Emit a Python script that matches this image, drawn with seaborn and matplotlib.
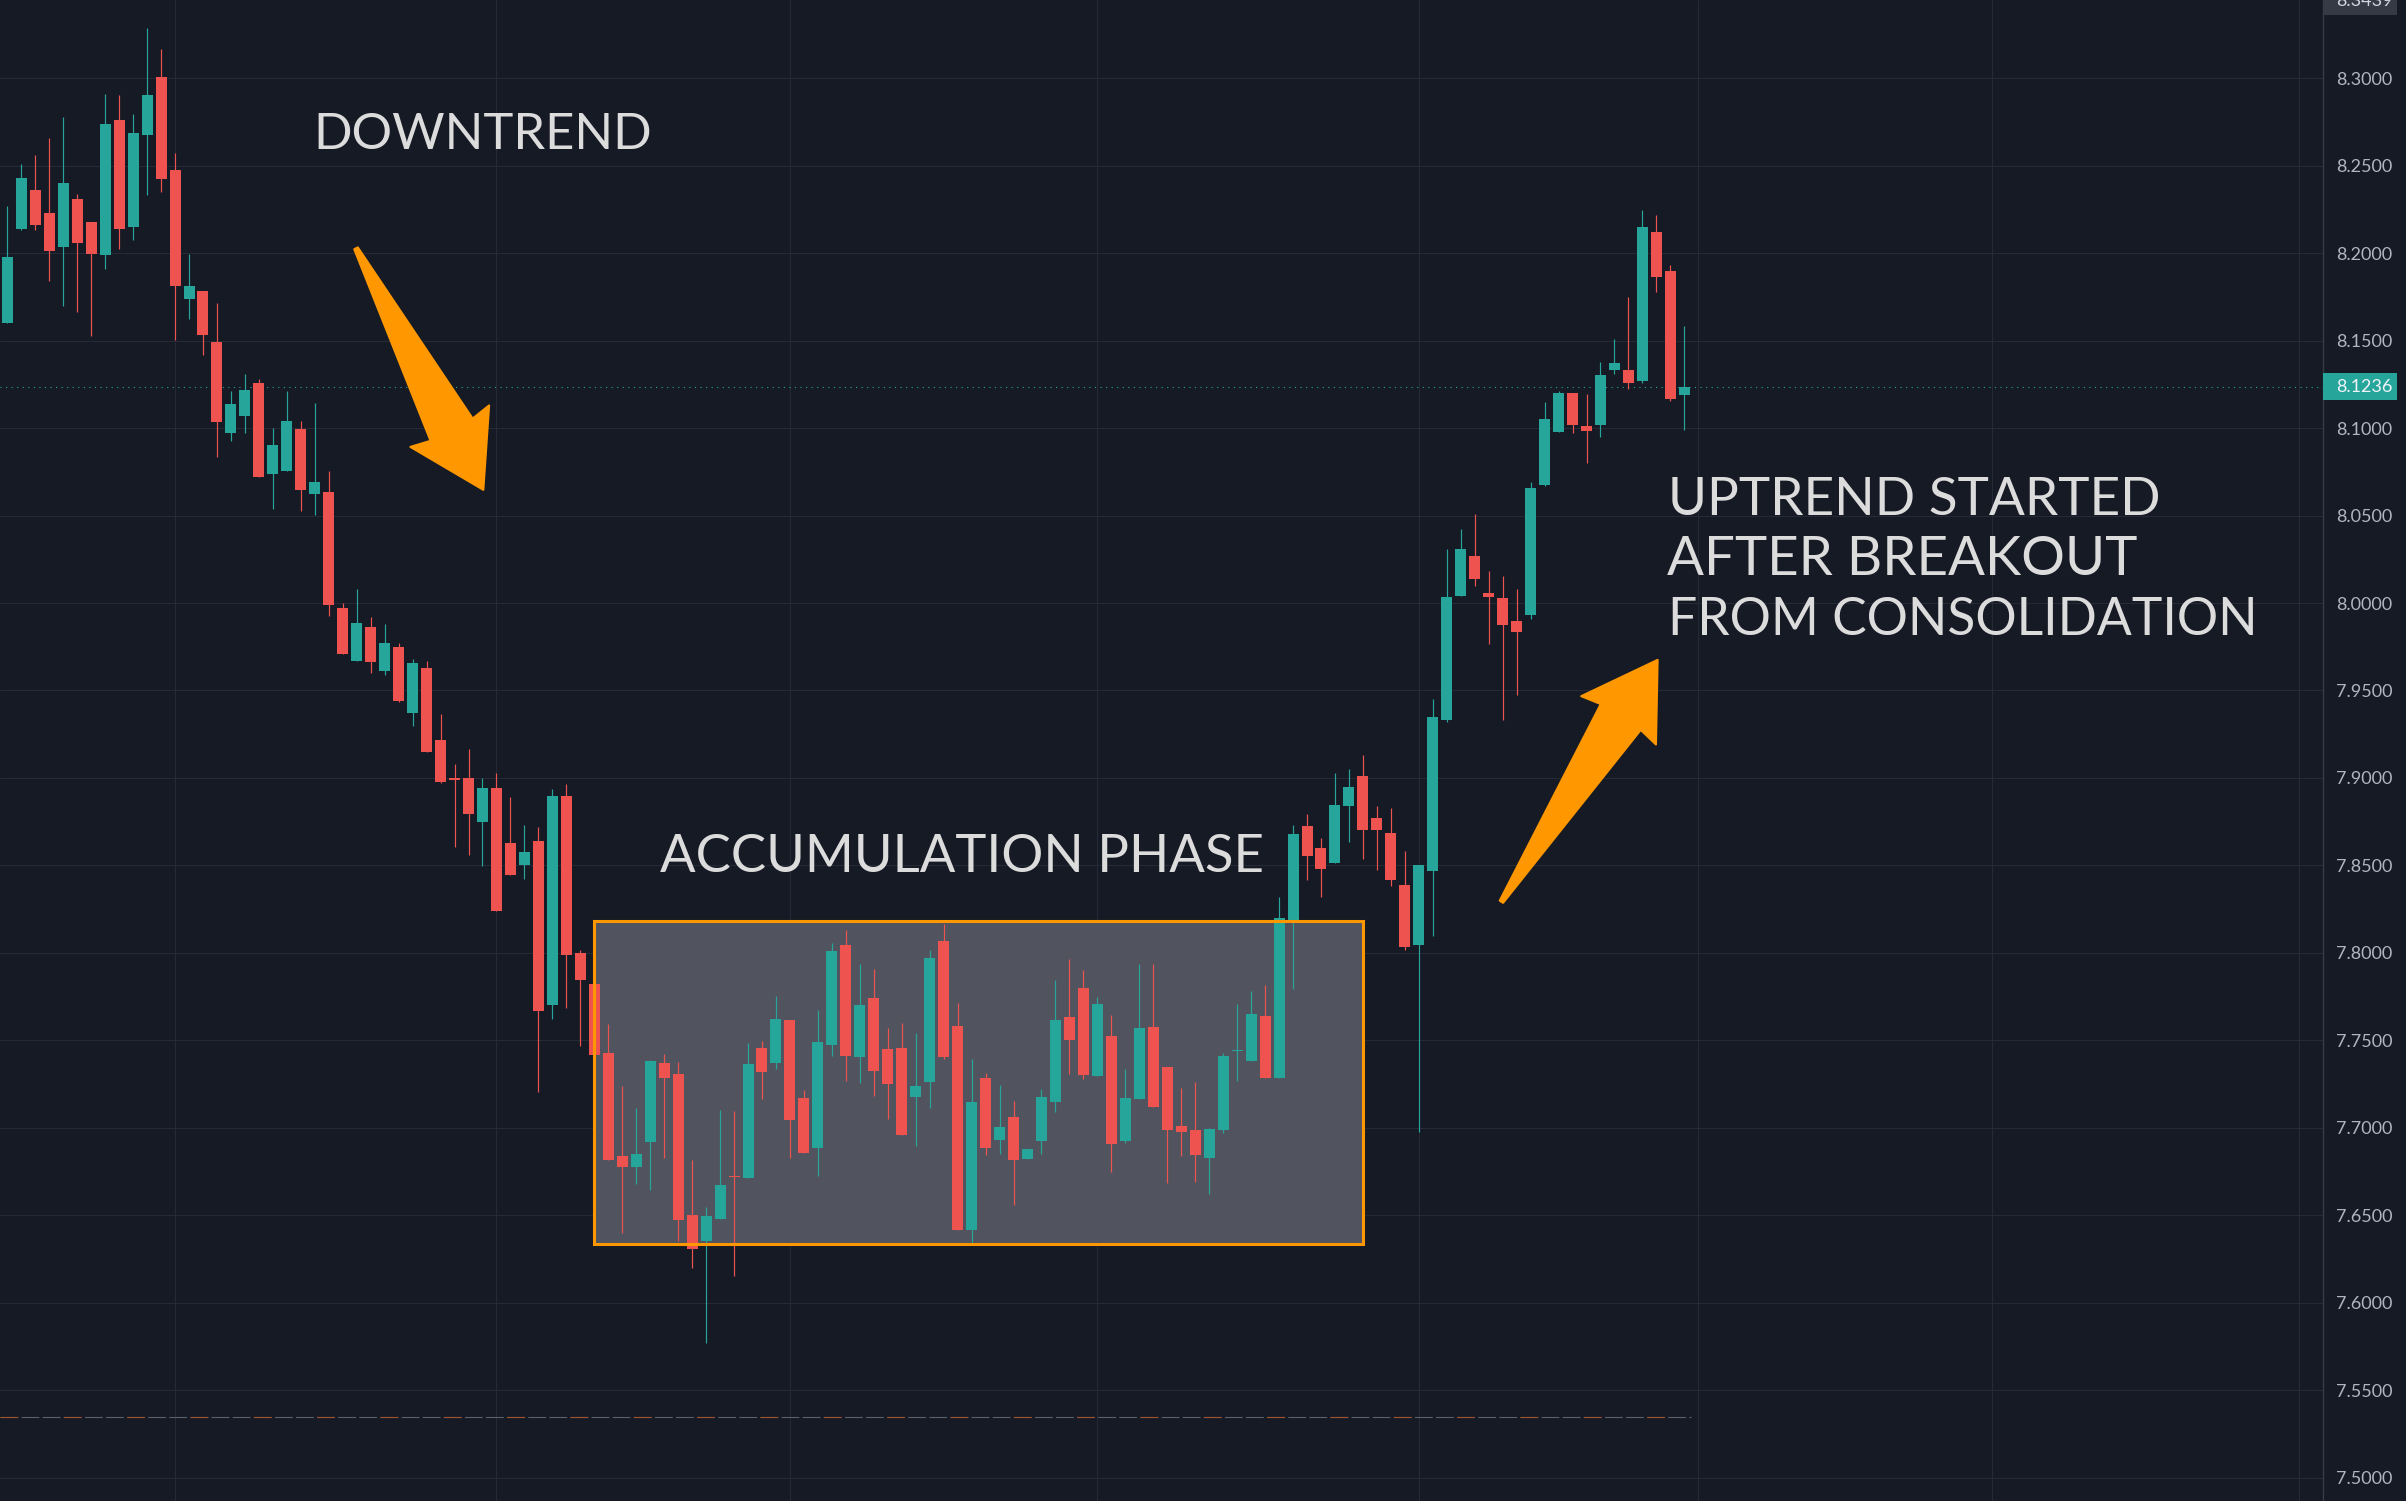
import numpy as np
import pandas as pd
import matplotlib
matplotlib.use("Agg")
import matplotlib.pyplot as plt
import seaborn as sns
from matplotlib.patches import Rectangle, Polygon
from matplotlib.ticker import MultipleLocator, FormatStrFormatter
from matplotlib.transforms import IdentityTransform, blended_transform_factory

# OHLC (one row per candle, left to right)
opens = [8.160, 8.214, 8.236, 8.223, 8.2036, 8.231, 8.2176, 8.1992, 8.276, 8.215,
         8.2673, 8.3008, 8.2476, 8.1739, 8.1783, 8.1491, 8.0972, 8.1069, 8.1256, 8.0737,
         8.0757, 8.0997, 8.0621, 8.0637, 7.9972, 7.967, 7.9864, 7.9609, 7.9749, 7.937,
         7.963, 7.9216, 7.8995, 7.9002, 7.8749, 7.8945, 7.8626, 7.850, 7.8642, 7.7699,
         7.8896, 7.7998, 7.782, 7.7427, 7.6836, 7.6777, 7.692, 7.737, 7.7306, 7.650,
         7.635, 7.6479, 7.6725, 7.6713, 7.7455, 7.737, 7.7614, 7.717, 7.6886, 7.7475,
         7.8045, 7.7407, 7.7742, 7.745, 7.7456, 7.7178, 7.7264, 7.8068, 7.7582, 7.6418,
         7.7285, 7.6932, 7.7062, 7.6823, 7.6926, 7.7149, 7.7633, 7.7799, 7.7298, 7.7525,
         7.6926, 7.7167, 7.7576, 7.7348, 7.701, 7.6987, 7.6829, 7.6987, 7.7437, 7.7384,
         7.7639, 7.7286, 7.8182, 7.8725, 7.8599, 7.8516, 7.884, 7.9011, 7.8771, 7.8685,
         7.8388, 7.8047, 7.847, 7.9333, 8.0042, 8.0268, 8.0058, 8.003, 7.9897, 7.9931,
         8.0675, 8.0979, 8.1201, 8.1012, 8.102, 8.1334, 8.1332, 8.1269, 8.212, 8.1898,
         8.1191]
highs = [8.227, 8.251, 8.256, 8.266, 8.278, 8.234, 8.218, 8.291, 8.2905, 8.2795,
         8.3286, 8.3169, 8.2573, 8.1995, 8.1783, 8.1714, 8.121, 8.1312, 8.1279, 8.1003,
         8.121, 8.1038, 8.1146, 8.0752, 8.000, 8.0082, 7.9921, 7.988, 7.9772, 7.9678,
         7.967, 7.9367, 7.9078, 7.9164, 7.8998, 7.9026, 7.8889, 7.873, 7.8718, 7.8934,
         7.8964, 7.8017, 7.7891, 7.7592, 7.7237, 7.7114, 7.7386, 7.742, 7.7377, 7.6815,
         7.6545, 7.710, 7.7095, 7.7483, 7.7498, 7.7754, 7.7614, 7.7216, 7.7673, 7.8056,
         7.8131, 7.7936, 7.7908, 7.757, 7.7599, 7.7542, 7.8016, 7.8165, 7.7713, 7.7393,
         7.7313, 7.7245, 7.7153, 7.6879, 7.7222, 7.7845, 7.7965, 7.7902, 7.7748, 7.7645,
         7.7336, 7.7936, 7.7936, 7.7348, 7.7227, 7.7262, 7.700, 7.7429, 7.7708, 7.7782,
         7.7816, 7.8319, 7.8729, 7.8794, 7.8657, 7.9028, 7.9051, 7.9131, 7.884, 7.8828,
         7.8582, 7.8502, 7.9451, 8.0309, 8.0424, 8.0509, 8.0183, 8.0154, 8.008, 8.0691,
         8.1148, 8.1212, 8.1201, 8.1195, 8.1377, 8.151, 8.1749, 8.2247, 8.2218, 8.1932,
         8.1583]
lows = [8.160, 8.213, 8.213, 8.184, 8.170, 8.1665, 8.1527, 8.191, 8.2023, 8.2074,
        8.2335, 8.235, 8.1504, 8.1624, 8.142, 8.0834, 8.0926, 8.0972, 8.0719, 8.0537,
        8.0757, 8.0524, 8.0506, 7.9923, 7.9706, 7.967, 7.960, 7.959, 7.9435, 7.9296,
        7.9147, 7.897, 7.8607, 7.8559, 7.8498, 7.8237, 7.8443, 7.8422, 7.7204, 7.7623,
        7.7685, 7.7469, 7.7168, 7.6818, 7.6398, 7.668, 7.6645, 7.6825, 7.635, 7.6199,
        7.577, 7.6479, 7.6154, 7.6713, 7.7166, 7.7334, 7.6825, 7.6858, 7.6726, 7.7412,
        7.7268, 7.7258, 7.7184, 7.7052, 7.6961, 7.6898, 7.7115, 7.7395, 7.6418, 7.634,
        7.6846, 7.6852, 7.6561, 7.6823, 7.6852, 7.7092, 7.731, 7.7281, 7.7298, 7.6749,
        7.6915, 7.7167, 7.712, 7.6686, 7.684, 7.669, 7.662, 7.6972, 7.7269, 7.7384,
        7.7286, 7.7286, 7.7795, 7.8418, 7.8321, 7.8516, 7.8634, 7.8538, 7.8475, 7.8384,
        7.8018, 7.6978, 7.8098, 7.9319, 8.0042, 8.0095, 7.9768, 7.9333, 7.9476, 7.9911,
        8.0667, 8.0979, 8.0973, 8.0801, 8.095, 8.131, 8.1224, 8.1259, 8.1777, 8.1157,
        8.0991]
closes = [8.198, 8.243, 8.216, 8.2015, 8.240, 8.206, 8.1997, 8.274, 8.2138, 8.2688,
          8.2905, 8.2422, 8.1813, 8.1811, 8.1532, 8.1033, 8.1136, 8.122, 8.0719, 8.0905,
          8.1043, 8.0644, 8.0693, 7.9987, 7.9706, 7.9885, 7.9665, 7.9772, 7.944, 7.9657,
          7.9147, 7.8974, 7.899, 7.8791, 7.8945, 7.8237, 7.8443, 7.8576, 7.767, 7.8896,
          7.7986, 7.7844, 7.7417, 7.6818, 7.6777, 7.6848, 7.7379, 7.7284, 7.6474, 7.6308,
          7.6493, 7.6671, 7.672, 7.7363, 7.732, 7.7621, 7.7045, 7.6858, 7.749, 7.8011,
          7.7412, 7.7702, 7.7327, 7.7252, 7.6961, 7.724, 7.7971, 7.7407, 7.6418, 7.7147,
          7.6886, 7.7004, 7.6818, 7.6879, 7.7176, 7.7616, 7.7504, 7.7304, 7.7708, 7.6909,
          7.717, 7.7571, 7.712, 7.6989, 7.6978, 7.6844, 7.6993, 7.741, 7.7445, 7.765,
          7.7286, 7.8199, 7.8679, 7.8556, 7.8481, 7.8845, 7.8948, 7.8704, 7.8704, 7.8418,
          7.8035, 7.8502, 7.9348, 8.0034, 8.0309, 8.014, 8.0036, 7.9876, 7.9835, 8.0658,
          8.1052, 8.1201, 8.102, 8.0985, 8.1304, 8.1373, 8.1255, 8.2149, 8.1865, 8.1169,
          8.1236]

price_ticks = [7.50, 7.55, 7.60, 7.65, 7.70, 7.75, 7.80, 7.85, 7.90, 7.95,
               8.00, 8.05, 8.10, 8.15, 8.20, 8.25, 8.30]
time_grid = [12, 35, 56, 78, 101, 121, 142, 164]   # candle index of the vertical grid lines
last_price = 8.1236
top_label = 8.3439
low_line = 7.5345

# accumulation box (candle index / price) and the two arrows (tail -> tip)
box_x = [42, 97]
box_y = [7.6334, 7.8180]
arrow_down = [(24.95, 8.2028), (34.06, 8.0647)]
arrow_up = [(106.91, 7.8292), (118.09, 7.9675)]

BG = "#161a25"
GRID = "#262a36"
UP = "#26a69a"
DOWN = "#ef5350"
ORANGE = "#ff9800"
TXT = "#dcdcdc"

df = pd.DataFrame({"open": opens, "high": highs, "low": lows, "close": closes})
df["idx"] = np.arange(len(df))
df["up"] = df["close"] >= df["open"]

sns.set_theme(style="darkgrid", rc={
    "axes.facecolor": BG, "figure.facecolor": BG, "grid.color": GRID,
    "grid.linewidth": 0.75, "axes.edgecolor": "#2f333e",
})
plt.rcParams["font.family"] = ["Lato", "DejaVu Sans"]

W, H = 2406, 1501
fig = plt.figure(figsize=(W / 100, H / 100), dpi=100)
ax = fig.add_axes([0, 0, 2322.7 / W, 1])
ax.set_xlim(-0.525, 165.68)
ax.set_ylim(7.48662, 8.34474)

# grid
ax.set_xticks(time_grid)
ax.set_xticklabels([])
ax.yaxis.set_major_locator(MultipleLocator(0.05))
ax.yaxis.set_major_formatter(FormatStrFormatter("%.4f"))
ax.yaxis.tick_right()
ax.tick_params(axis="x", length=0)
ax.tick_params(axis="y", length=0, pad=9.6, labelsize=13, labelcolor="#b2b5be")
for s in ["left", "top", "bottom"]:
    ax.spines[s].set_visible(False)
ax.spines["right"].set_color("#363a45")
ax.spines["right"].set_linewidth(1.0)

# accumulation box fill (under candles)
ax.add_patch(Rectangle((box_x[0], box_y[0]), box_x[1] - box_x[0], box_y[1] - box_y[0],
                       facecolor="#51545e", edgecolor="none", zorder=1))

# candles
colors = np.where(df["up"], UP, DOWN)
ax.vlines(df["idx"], df["low"], df["high"], colors=colors, lw=0.85, zorder=3)
body_lo = np.minimum(df["open"], df["close"])
body_h = np.maximum((df["close"] - df["open"]).abs(), 0.0007)
ax.bar(df["idx"], body_h, bottom=body_lo, width=0.787, color=colors, linewidth=0, zorder=4)

# box border
ax.add_patch(Rectangle((box_x[0], box_y[0]), box_x[1] - box_x[0], box_y[1] - box_y[0],
                       facecolor="none", edgecolor=ORANGE, lw=2.2, zorder=5))

# last price line and lowest-price marker line
ax.axhline(last_price, color=UP, lw=0.8, linestyle=(0, (1, 4)), zorder=2)
ax.hlines(low_line, -0.525, 120.5, color="#5d606b", lw=0.8, linestyle=(0, (16, 3)), zorder=2)
ax.hlines(low_line, -0.525, 120.5, color="#a0522d", lw=0.8, linestyle=(0, (16, 41)), zorder=2)

# price-axis labels for last price and top marker
blend = blended_transform_factory(ax.transAxes, ax.transData)
hh = 13.35 / 1749.2
for price, face, col in [(last_price, UP, "#f0f3fa"), (top_label, "#363a45", "#d1d4dc")]:
    ax.add_patch(Rectangle((1.0, price - hh), 74 / 2322.7, 2 * hh, transform=blend,
                           facecolor=face, edgecolor="none", clip_on=False, zorder=6))
    ax.text(1.0 + 13.3 / 2322.7, price, f"{price:.4f}", transform=blend, color=col,
            fontsize=13, va="center", ha="left", clip_on=False, zorder=7)

fig.canvas.draw()


def draw_arrow(tail, tip):
    p0 = ax.transData.transform(tail)
    p1 = ax.transData.transform(tip)
    d = p1 - p0
    L = np.hypot(*d)
    u = d / L
    n = np.array([-u[1], u[0]])
    head, barb, shaft, notch = 72, 44.5, 23.8, 68
    pts = [p0 + n * 2, p0 + u * (L - notch) + n * shaft, p0 + u * (L - head) + n * barb, p1,
           p0 + u * (L - head) - n * barb, p0 + u * (L - notch) - n * shaft, p0 - n * 2]
    ax.add_patch(Polygon(pts, closed=True, transform=IdentityTransform(), facecolor=ORANGE,
                         edgecolor=ORANGE, lw=1.5, joinstyle="round", zorder=6))


draw_arrow(*arrow_down)
draw_arrow(*arrow_up)

# annotations, sized to the width they take on the chart
rend = fig.canvas.get_renderer()


def label(txt, left, base, width):
    t = fig.text(left / W, 1 - base / H, txt, fontsize=40, color=TXT, va="baseline", ha="left")
    w = t.get_window_extent(renderer=rend).width
    t.set_fontsize(40 * width / w)
    return t


label("DOWNTREND", 313, 149.3, 339)
label("ACCUMULATION PHASE", 660, 872, 603)
label("UPTREND STARTED", 1668, 515, 493)
label("AFTER BREAKOUT", 1667, 575, 470)
label("FROM CONSOLIDATION", 1668, 635, 590)

fig.savefig("out.png", dpi=100, facecolor=BG)
